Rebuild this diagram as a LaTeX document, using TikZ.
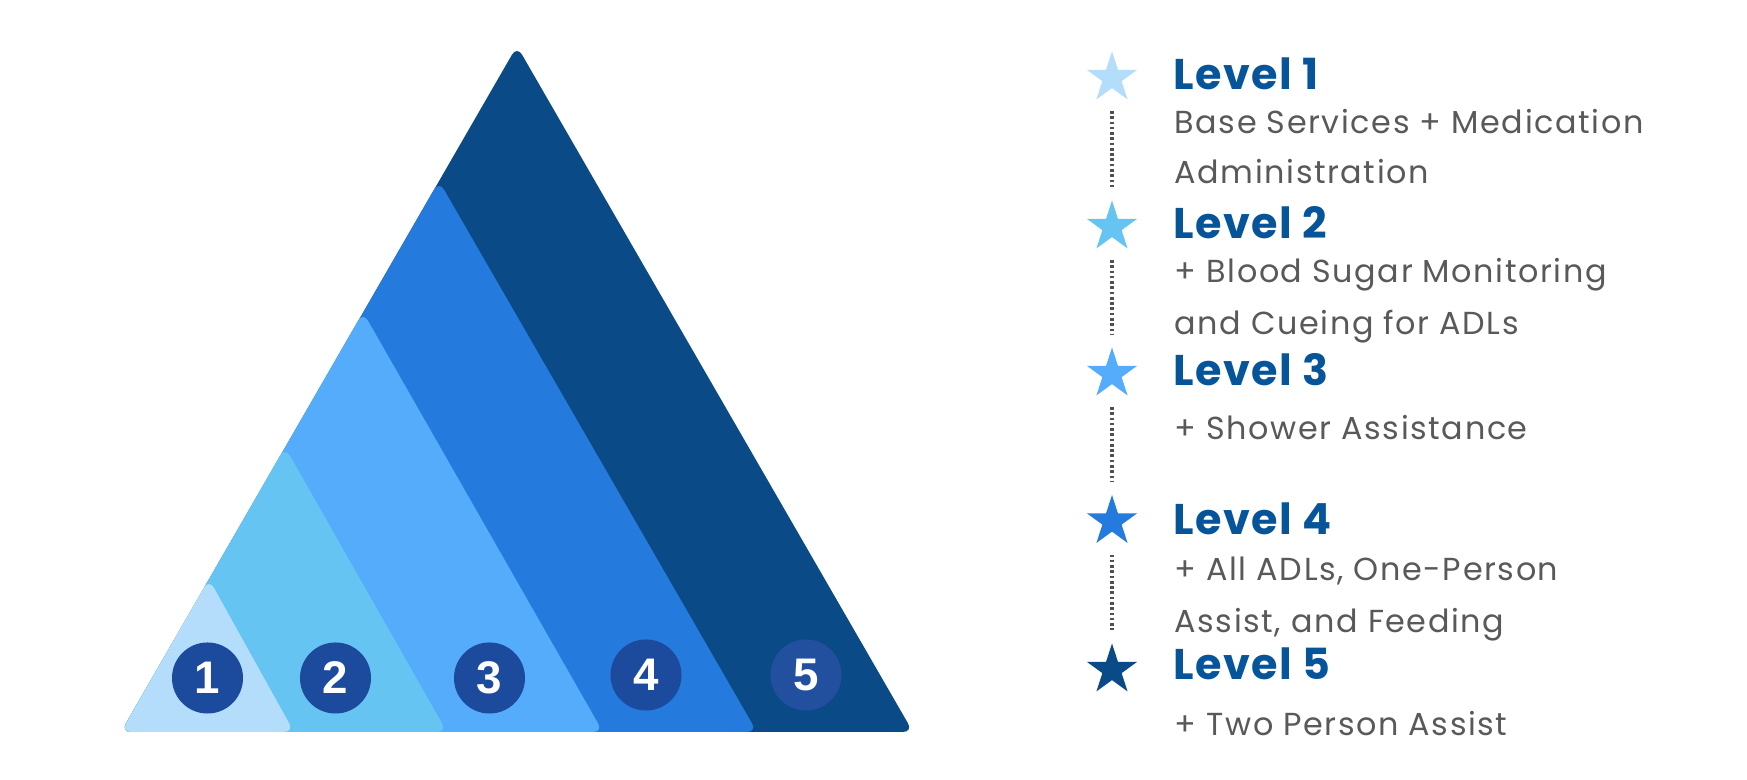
\documentclass[tikz,border=0pt]{standalone}
\usepackage{fontspec}
\setmainfont{Poppins}
\newfontfamily\ziffernschrift{Liberation Sans}
\usetikzlibrary{shapes.geometric}

% Farben der fuenf Stufen
\definecolor{stufeA}{HTML}{B3DDFB}
\definecolor{stufeB}{HTML}{65C4F2}
\definecolor{stufeC}{HTML}{55ACFB}
\definecolor{stufeD}{HTML}{247ADD}
\definecolor{stufeE}{HTML}{0A4A87}
\definecolor{kreisblau}{HTML}{1C4A9C}
\definecolor{titelblau}{HTML}{06559A}
\definecolor{textgrau}{HTML}{595959}

\tikzset{
	dreieck/.style={rounded corners=0.1cm},
	zahl/.style={circle, fill=kreisblau, minimum size=0.71cm, inner sep=0pt, text=white,
		font=\ziffernschrift\bfseries\fontsize{13}{13}\selectfont},
	stern/.style={star, star points=5, star point ratio=2.618, minimum size=0.53cm, inner sep=0pt},
	titel/.style={anchor=base west, inner sep=0pt, text=titelblau,
		font=\bfseries\fontsize{12.2}{12.2}\selectfont\addfontfeatures{LetterSpace=3}},
	beschr/.style={anchor=base west, inner sep=0pt, text=textgrau,
		font=\fontsize{9.05}{9.05}\selectfont\addfontfeatures{LetterSpace=5}},
	punktlinie/.style={draw=textgrau!90!black, line width=0.9pt, dash pattern=on 0.75pt off 0.75pt,
		shorten <=0.33cm, shorten >=0.40cm}
}

\begin{document}
\begin{tikzpicture}[x=0.01cm, y=-0.01cm]
	\useasboundingbox (0,0) rectangle (1747,780);
	
	% Zeichnet die Dreiecke von Stufe 5 bis Stufe 1
	\fill[stufeE][dreieck] (121,732) -- (517,46) -- (913,732) -- cycle;
	\fill[stufeD][dreieck] (121,732) -- (439,181) -- (757,732) -- cycle;
	\fill[stufeC][dreieck] (121,732) -- (363,312) -- (603,732) -- cycle;
	\fill[stufeB][dreieck] (121,732) -- (285,447) -- (447,732) -- cycle;
	\fill[stufeA][dreieck] (121,732) -- (209,579) -- (294,732) -- cycle;
	
	% Zeichnet die Kreise mit den Nummern
	\node[zahl] (k1) at (207.5,678) {1};
	\node[zahl] (k2) at (335.5,678) {2};
	\node[zahl] (k3) at (489.5,678) {3};
	\node[zahl] (k4) at (646,675) {4};
	\node[zahl, fill=kreisblau!97!white] (k5) at (806,675) {5};
	
	% Zeichnet die Sterne der Legende
	\node[stern, fill=stufeA] (s1) at (1112,78) {};
	\node[stern, fill=stufeB] (s2) at (1112,227) {};
	\node[stern, fill=stufeC] (s3) at (1112,374) {};
	\node[stern, fill=stufeD] (s4) at (1112,521.5) {};
	\node[stern, fill=stufeE] (s5) at (1112,670) {};
	
	% Punktlinien zwischen den Sternen
	\draw[punktlinie] (s1.center) -- (s2.center);
	\draw[punktlinie] (s2.center) -- (s3.center);
	\draw[punktlinie] (s3.center) -- (s4.center);
	\draw[punktlinie] (s4.center) -- (s5.center);
	
	% Ueberschriften und Beschreibungen
	\node[titel] (t1) at (1173,90) {Level 1};
	\node[beschr] (b1a) at (1174,133.3) {Base Services + Medication};
	\node[beschr] (b1b) at (1174,183.3) {Administration};
	
	\node[titel] (t2) at (1173,238.3) {Level 2};
	\node[beschr] (b2a) at (1174,282.7) {+ Blood Sugar Monitoring};
	\node[beschr] (b2b) at (1174,334.3) {and Cueing for ADLs};
	
	\node[titel] (t3) at (1173,385.7) {Level 3};
	\node[beschr] (b3a) at (1174,439.3) {+ Shower Assistance};
	
	\node[titel] (t4) at (1173,535) {Level 4};
	\node[beschr] (b4a) at (1174,580.7) {+ All ADLs, One-Person};
	\node[beschr] (b4b) at (1174,632.7) {Assist, and Feeding};
	
	\node[titel] (t5) at (1173,680) {Level 5};
	\node[beschr] (b5a) at (1174,736) {+ Two Person Assist};
	
\end{tikzpicture}
\end{document}
